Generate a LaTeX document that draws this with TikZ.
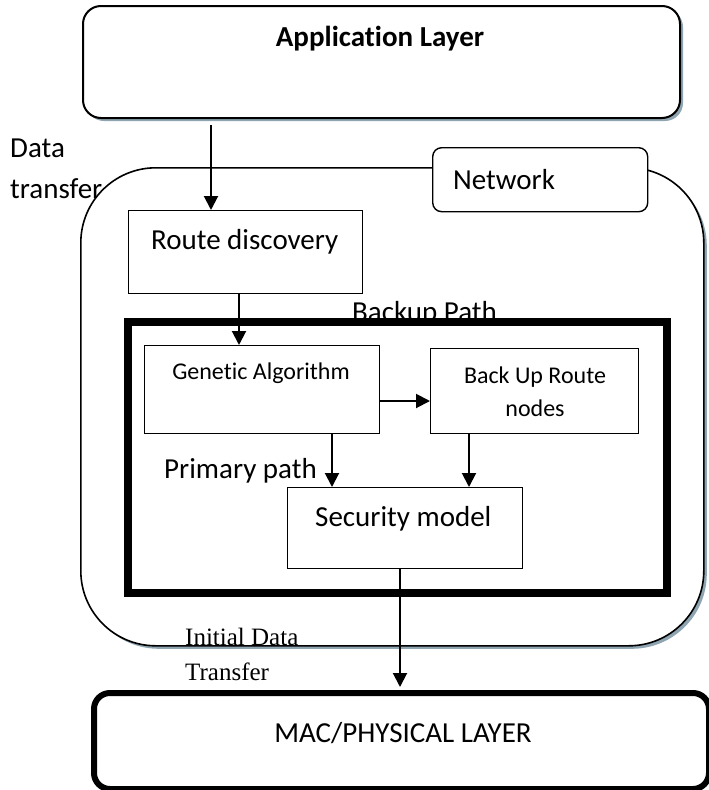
\documentclass[tikz,border=0pt]{standalone}
\usepackage{fontspec}
\setmainfont{Carlito}[Ligatures=NoCommon]
\newfontfamily\timesfont{Liberation Serif}
\usetikzlibrary{arrows.meta,shadows}
\definecolor{shadowblue}{RGB}{143,166,178}
\begin{document}
\begin{tikzpicture}[x=1pt,y=-1pt,
  softshadow/.style={drop shadow={shadow xshift=3pt,shadow yshift=-3pt,fill=shadowblue,opacity=1}},
  plainbox/.style={draw,line width=1.2pt,fill=white},
  flow/.style={line width=2pt,-{Triangle[length=14pt,width=14pt]}},
  txt/.style={font=\fontsize{29}{34}\selectfont,inner sep=0pt,anchor=base west},
  smalltxt/.style={font=\fontsize{24}{32}\selectfont,inner sep=0pt}]
\useasboundingbox (0,0) rectangle (709,790);

% application layer
\node[draw,rounded corners=18pt,line width=2pt,fill=white,softshadow,
      minimum width=597pt,minimum height=112pt,anchor=north west] (app) at (82,5) {};
\node[font=\bfseries\fontsize{29}{34}\selectfont,inner sep=0pt,anchor=base] (apptext) at (380,46) {Application Layer};

\node[txt] (data1) at (10,157) {Data};
\node[txt] (data2) at (10,198) {transfer};

% network layer
\node[draw,rounded corners=75pt,line width=1.6pt,fill=white,softshadow,
      minimum width=623pt,minimum height=478pt,anchor=north west] (net) at (80,167) {};
\node[draw,rounded corners=9pt,line width=1.4pt,fill=white,
      minimum width=215pt,minimum height=64pt,anchor=north west] (netlabel) at (432,147) {};
\node[txt] (nettext) at (453,189) {Network};

% route discovery
\node[plainbox,minimum width=234pt,minimum height=83pt,anchor=north west] (route) at (128,210) {};
\node[txt] (routetext) at (151,249) {Route discovery};

% backup path frame (drawn over its caption)
\node[txt] (backup) at (352,321) {Backup Path};
\draw[line width=7.5pt] (128,322) rectangle (667,593);

% genetic algorithm
\node[plainbox,minimum width=235pt,minimum height=88pt,anchor=north west] (ga) at (144,345) {};
\node[smalltxt,anchor=base] (gatext) at (261,379) {Genetic Algorithm};

% back up route nodes
\node[plainbox,minimum width=208pt,minimum height=85pt,anchor=north west] (bur) at (430,348) {};
\node[smalltxt,anchor=base] (burtext1) at (535,383) {Back Up Route};
\node[smalltxt,anchor=base] (burtext2) at (535,416) {nodes};

% security model
\node[plainbox,minimum width=235pt,minimum height=81pt,anchor=north west] (sec) at (287,487) {};
\node[txt] (sectext) at (315,526) {Security model};
\node[txt] (primary) at (164,478) {Primary path};

% initial data transfer
\node[font=\timesfont\fontsize{25}{30}\selectfont,inner sep=0pt,anchor=base west] (init1) at (185,645) {Initial Data};
\node[font=\timesfont\fontsize{25}{30}\selectfont,inner sep=0pt,anchor=base west] (init2) at (185,680) {Transfer};

% mac / physical layer
\node[draw,rounded corners=16pt,line width=6pt,
      minimum width=615pt,minimum height=96pt,anchor=north west] (mac) at (91,690) {};
\node[font=\fontsize{29}{34}\selectfont,inner sep=0pt,anchor=base] (mactext) at (403,742) {MAC/PHYSICAL LAYER};

% connectors
\draw[flow] (211,125) -- (route.north -| 211,0);
\draw[flow] (route.south -| 239,0) -- (ga.north -| 239,0);
\draw[flow] (ga.east |- 0,401) -- (bur.west |- 0,401);
\draw[flow] (ga.south -| 332,0) -- (sec.north -| 332,0);
\draw[flow] (bur.south -| 469,0) -- (sec.north -| 469,0);
\draw[flow] (sec.south -| 400,0) -- ([yshift=3pt]mac.north -| 400,0);
\end{tikzpicture}
\end{document}
